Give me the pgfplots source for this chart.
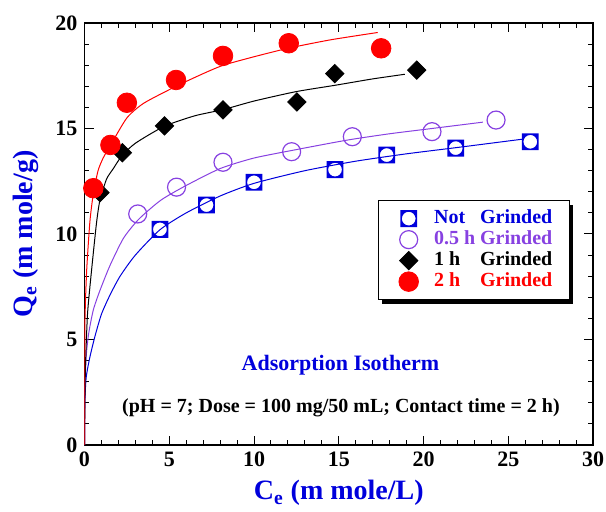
\documentclass[border=0pt]{standalone}
\usepackage{fontspec}
\setmainfont{Liberation Serif}
\usepackage{pgfplots}
\pgfplotsset{compat=1.18}
\usetikzlibrary{shadows}

\definecolor{cblue}{RGB}{0,0,220}
\definecolor{cpurple}{RGB}{135,65,225}
\definecolor{cred}{RGB}{255,0,0}

% filled square with a round hole, as in the original markers
\pgfdeclareplotmark{sqcirc}{%
  \pgfscope
  \pgfseteorule
  \pgfpathrectangle{\pgfpoint{-\pgfplotmarksize}{-\pgfplotmarksize}}{\pgfpoint{2\pgfplotmarksize}{2\pgfplotmarksize}}%
  \pgfpathcircle{\pgfpointorigin}{0.82\pgfplotmarksize}%
  \pgfusepathqfill
  \endpgfscope}

\begin{document}
\begin{tikzpicture}
\begin{axis}[
  name=ax,
  scale only axis, width=254.25pt, height=211pt,
  xmin=0, xmax=30, ymin=0, ymax=20,
  xtick={0,5,...,30}, ytick={0,5,...,20},
  minor x tick num=4, minor y tick num=4,
  xtick pos=both, ytick pos=both,
  tick align=inside,
  major tick length=4.5pt, minor tick length=2.5pt,
  every tick/.style={black, line width=0.5pt},
  axis line style={line width=0.9pt},
  /pgf/number format/assume math mode=true,
  tick label style={font=\fontsize{11}{12}\selectfont\bfseries},
  xlabel={C\textsubscript{e} (m mole/L)},
  ylabel={Q\textsubscript{e} (m mole/g)},
  label style={font=\fontsize{14}{16}\selectfont\bfseries, text=cblue},
  xlabel style={at={(axis description cs:0.5,-0.1303)}, anchor=base},
  ylabel style={at={(axis description cs:-0.1032,0.5)}, anchor=base},
  legend style={at={(rel axis cs:0.577,0.58)}, anchor=north west,
    draw=black, fill=white, inner xsep=8pt, inner ysep=4pt,
    row sep=0.5pt, column sep=5pt,
    font=\fontsize{10}{11}\selectfont\bfseries,
    drop shadow={shadow xshift=2pt, shadow yshift=-2pt, fill=black, opacity=1},
    nodes={inner sep=0.5pt, text height=7pt, text depth=2pt}},
  legend cell align=left,
  legend image code/.code={\path (0pt,0pt) (14pt,0pt); \draw[#1] plot coordinates {(7pt,0pt)};},
]
% measured points
\addplot[only marks, mark=sqcirc, mark size=4.2pt, cblue] coordinates {
  (4.45,10.22) (7.2,11.37) (10.0,12.45) (14.78,13.05) (17.83,13.74) (21.9,14.07) (26.3,14.37)};
\addlegendentry{\textcolor{cblue}{\makebox[23pt][l]{Not}Grinded}}
\addplot[only marks, mark=o, mark size=4.5pt, mark options={draw=cpurple, line width=0.6pt}] coordinates {
  (3.14,10.95) (5.43,12.22) (8.17,13.4) (12.22,13.9) (15.8,14.61) (20.5,14.85) (24.28,15.4)};
\addlegendentry{\textcolor{cpurple}{\makebox[23pt][l]{0.5 h}Grinded}}
\addplot[only marks, mark=square*, mark size=3.25pt, mark options={rotate=45, fill=black, draw=black}] coordinates {
  (0.91,11.96) (2.23,13.85) (4.72,15.12) (8.17,15.88) (12.53,16.26) (14.77,17.6) (19.6,17.77)};
\addlegendentry{\textcolor{black}{\makebox[23pt][l]{1 h}Grinded}}
\addplot[only marks, mark=*, mark size=4.9pt, mark options={fill=cred, draw=cred}] coordinates {
  (0.52,12.17) (1.53,14.22) (2.5,16.22) (5.4,17.3) (8.17,18.44) (12.05,19.04) (17.5,18.8)};
\addlegendentry{\textcolor{cred}{\makebox[23pt][l]{2 h}Grinded}}

% fitted curves
\addplot[forget plot, cblue, line width=0.5pt, smooth, tension=0.4] coordinates {
  (0,0) (0.02,2.0) (0.1,3.2) (0.3,4.1) (0.6,5.1) (1.0,6.2) (1.5,7.1) (2.1,8.0) (3.0,9.0)
  (4.45,10.2) (6,11.0) (8,11.8) (10,12.4) (13,13.0) (16,13.45) (19,13.8) (22,14.1) (25.9,14.5)};
\addplot[forget plot, cpurple, line width=0.5pt, smooth, tension=0.4] coordinates {
  (0,0) (0.02,2.5) (0.1,4.2) (0.25,5.3) (0.52,6.4) (0.9,7.3) (1.5,8.5) (2.3,9.8) (3.2,10.7)
  (4.5,11.6) (6,12.3) (8,13.1) (10,13.6) (12.5,14.0) (15.5,14.45) (18,14.75) (20.5,15.0) (23.5,15.3)};
\addplot[forget plot, black, line width=0.5pt, smooth, tension=0.4] coordinates {
  (0,0) (0.05,3.5) (0.17,6.1) (0.32,7.5) (0.52,9.1) (0.72,10.6) (0.91,11.6) (1.3,12.6) (1.7,13.1)
  (2.2,13.7) (3,14.3) (4.7,15.1) (6.5,15.6) (8.2,15.9) (10,16.3) (12.5,16.75) (14.8,17.05) (17,17.35) (18.9,17.57)};
\addplot[forget plot, cred, line width=0.5pt, smooth, tension=0.4] coordinates {
  (0,0) (0.01,3.0) (0.03,6.0) (0.13,8.3) (0.32,10.6) (0.52,11.9) (0.8,13.0) (1.1,13.6) (1.53,14.2)
  (2.5,15.5) (3.5,16.2) (5.4,17.0) (7,17.6) (8.2,18.0) (10,18.4) (12,18.8) (14.5,19.2) (17.3,19.55)};

\node[anchor=base, text=cblue, font=\fontsize{11}{12}\selectfont\bfseries] at (axis cs:15.1,3.55) {Adsorption Isotherm};
\node[anchor=base, font=\fontsize{10}{11}\selectfont\bfseries] at (axis cs:15.13,1.52) {(pH = 7; Dose = 100 mg/50 mL; Contact time = 2 h)};
\end{axis}
\pgfresetboundingbox
\path[use as bounding box] ([xshift=-42.25pt,yshift=-33pt]ax.south west) rectangle ([xshift=6.5pt,yshift=11.5pt]ax.north east);
\end{tikzpicture}
\end{document}
